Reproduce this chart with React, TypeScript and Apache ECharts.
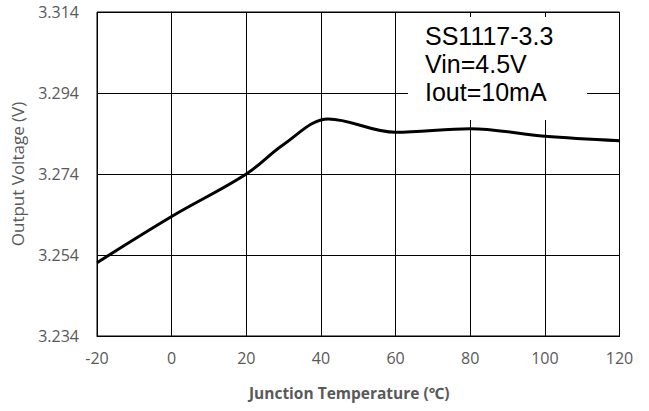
import React, { useEffect, useRef } from "react";
import * as echarts from "echarts";

const temperatures = [-20, 0, 20, 30, 42, 60, 80, 100, 120];
const voltages = [3.2521, 3.2635, 3.2740, 3.2813, 3.2876, 3.2843, 3.2852, 3.2833, 3.2822];
const annotationLines = ["SS1117-3.3", "Vin=4.5V", "Iout=10mA"];
const xTitle = "Junction Temperature (℃)";
const yTitle = "Output Voltage (V)";

export default function App() {
  const ref = useRef<HTMLDivElement>(null);
  useEffect(() => {
    if (!ref.current) return;
    const chart = echarts.init(ref.current, undefined, { renderer: "svg" });
    const gray = "#595959";
    const font = "'Open Sans', 'Noto Sans', sans-serif";
    chart.setOption({
      animation: false,
      backgroundColor: "#ffffff",
      grid: { left: 97, right: 29.5, top: 12, bottom: 75, show: true, borderColor: "#000", borderWidth: 1 },
      xAxis: {
        type: "value",
        min: -20,
        max: 120,
        interval: 20,
        axisLine: { show: true, lineStyle: { color: "#000", width: 1 } },
        axisTick: { show: false },
        splitLine: { show: true, lineStyle: { color: "#000", width: 1 } },
        axisLabel: { color: gray, fontSize: 16, fontFamily: font, margin: 14 },
        name: xTitle,
        nameLocation: "middle",
        nameGap: 49,
        nameTextStyle: { color: gray, fontSize: 15.5, fontWeight: "bold", fontFamily: font, padding: [0, 18, 0, 0] },
      },
      yAxis: {
        type: "value",
        min: 3.234,
        max: 3.314,
        interval: 0.02,
        axisLine: { show: true, lineStyle: { color: "#000", width: 1 } },
        axisTick: { show: false },
        splitLine: { show: true, lineStyle: { color: "#000", width: 1 } },
        axisLabel: { color: gray, fontSize: 16, fontFamily: font, margin: 18, formatter: (v: number) => v.toFixed(3) },
        name: yTitle,
        nameLocation: "middle",
        nameGap: 71,
        nameRotate: 90,
        nameTextStyle: { color: gray, fontSize: 17, fontFamily: font },
      },
      series: [
        {
          type: "line",
          data: temperatures.map((t, i) => [t, voltages[i]]),
          smooth: 0.35,
          showSymbol: false,
          lineStyle: { color: "#000", width: 3 },
          z: 3,
        },
      ],
      graphic: [
        {
          type: "rect",
          shape: { x: 408, y: 17, width: 179, height: 103 },
          style: { fill: "#fff" },
          z: 10,
        },
        {
          type: "text",
          x: 425,
          y: 22,
          z: 11,
          style: {
            text: annotationLines.join("\n"),
            fill: "#000",
            fontSize: 25,
            fontFamily: "Liberation Sans",
            lineHeight: 28,
            verticalAlign: "top",
          },
        },
      ],
    });
    return () => chart.dispose();
  }, []);
  return <div ref={ref} style={{ width: 649, height: 411, position: "absolute", left: 0, top: 0 }} />;
}
